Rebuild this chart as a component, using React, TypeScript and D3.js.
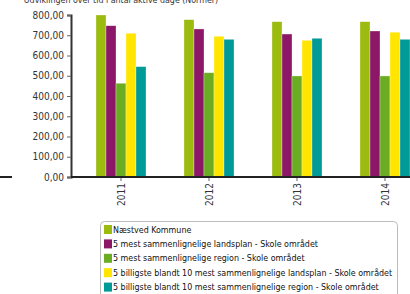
import { useEffect, useRef } from "react";
import * as d3 from "d3";

const years = ["2011", "2012", "2013", "2014"];
const seriesNames = [
  "Næstved Kommune",
  "5 mest sammenlignelige landsplan - Skole området",
  "5 mest sammenlignelige region - Skole området",
  "5 billigste blandt 10 mest sammenlignelige landsplan - Skole området",
  "5 billigste blandt 10 mest sammenlignelige region - Skole området",
];
const naestved = [800, 777, 767, 767];
const landsplan = [747, 731, 706, 721];
const region = [463, 515, 499, 499];
const billigLandsplan = [710, 695, 675, 715];
const billigRegion = [545, 680, 685, 680];
const colors = ["#9bbb0f", "#8c1767", "#6aad23", "#ffe500", "#009a97"];
const yTicks = [0, 100, 200, 300, 400, 500, 600, 700, 800];

const App = () => {
  const svgRef = useRef<SVGSVGElement>(null);

  useEffect(() => {
    const svg = d3.select(svgRef.current);
    svg.selectAll("*").remove();

    const series = [naestved, landsplan, region, billigLandsplan, billigRegion];
    const font = "Tahoma, 'DejaVu Sans Condensed', 'Liberation Sans', sans-serif";

    // Title (cut off at the top)
    svg
      .append("text")
      .attr("x", 121)
      .attr("y", 3)
      .attr("text-anchor", "middle")
      .attr("font-family", font)
      .attr("font-size", 8.8)
      .attr("fill", "#333")
      .text("Udviklingen over tid i antal aktive dage (Normer)");

    const y = d3.scaleLinear().domain([0, 800]).range([177, 15]);
    const x0 = d3
      .scaleBand()
      .domain(years)
      .range([77, 429])
      .paddingInner(0.432)
      .paddingOuter(0.216);
    const x1 = d3
      .scaleBand()
      .domain(d3.range(series.length).map(String))
      .range([0, x0.bandwidth()]);

    // bars
    series.forEach((vals, si) => {
      svg
        .append("g")
        .selectAll("rect")
        .data(vals)
        .enter()
        .append("rect")
        .attr("x", (_d, i) => (x0(years[i]) ?? 0) + (x1(String(si)) ?? 0))
        .attr("y", (d) => y(d))
        .attr("width", x1.bandwidth())
        .attr("height", (d) => y(0) - y(d))
        .attr("fill", colors[si])
        .attr("stroke", "rgba(255,255,255,0.5)")
        .attr("stroke-width", 0.6);
    });

    // Y axis
    const yAxis = svg
      .append("g")
      .attr("transform", "translate(71,0)")
      .call(
        d3
          .axisLeft(y)
          .tickValues(yTicks)
          .tickSize(4)
          .tickFormat((d) => d3.format(".2f")(d as number).replace(".", ","))
      );
    yAxis.select(".domain").attr("stroke", "#333").attr("stroke-width", 2);
    yAxis.selectAll(".tick line").attr("stroke", "#666");
    yAxis
      .selectAll("text")
      .attr("font-family", font)
      .attr("font-size", 10)
      .attr("fill", "#333");

    // X axis
    const xAxis = svg
      .append("g")
      .attr("transform", "translate(0,177)")
      .call(d3.axisBottom(x0).tickSize(4).tickSizeOuter(0));
    xAxis.select(".domain").remove();
    xAxis.selectAll(".tick line").attr("stroke", "#666");
    xAxis
      .selectAll("text")
      .attr("font-family", font)
      .attr("font-size", 10)
      .attr("fill", "#333")
      .attr("transform", "rotate(-90)")
      .attr("text-anchor", "end")
      .attr("x", -6)
      .attr("y", 0)
      .attr("dy", "0.35em");

    // baseline
    svg
      .append("line")
      .attr("x1", 71)
      .attr("x2", 410)
      .attr("y1", 177)
      .attr("y2", 177)
      .attr("stroke", "#222")
      .attr("stroke-width", 2);
    svg
      .append("line")
      .attr("x1", 0)
      .attr("x2", 12)
      .attr("y1", 177)
      .attr("y2", 177)
      .attr("stroke", "#222")
      .attr("stroke-width", 2);

    // Legend
    const legend = svg.append("g");
    legend
      .append("rect")
      .attr("x", 100.5)
      .attr("y", 221.5)
      .attr("width", 297)
      .attr("height", 90)
      .attr("rx", 4)
      .attr("fill", "white")
      .attr("stroke", "#bbb");
    const rows = legend
      .selectAll("g.row")
      .data(seriesNames)
      .enter()
      .append("g")
      .attr("transform", (_d, i) => `translate(104,${229.5 + i * 14.4})`);
    rows
      .append("rect")
      .attr("x", 0)
      .attr("y", -4.5)
      .attr("width", 8)
      .attr("height", 9)
      .attr("fill", (_d, i) => colors[i]);
    rows
      .append("text")
      .attr("x", 9)
      .attr("y", 0)
      .attr("dy", "0.35em")
      .attr("font-family", font)
      .attr("font-size", 8.85)
      .attr("fill", "#111")
      .text((d) => d);
  }, []);

  return (
    <svg
      ref={svgRef}
      width={410}
      height={294}
      style={{ position: "absolute", left: 0, top: 0 }}
    />
  );
};

export default App;
